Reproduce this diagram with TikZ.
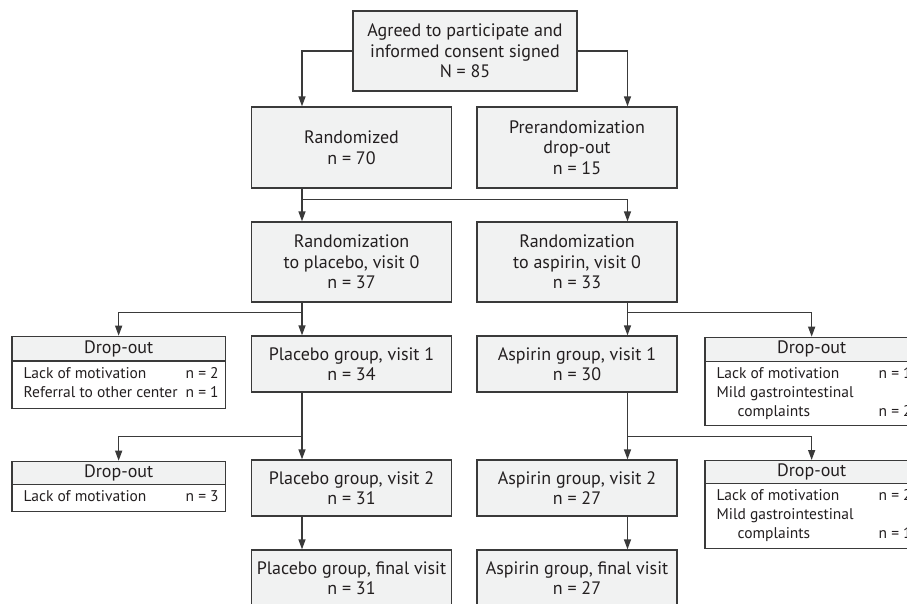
\documentclass[tikz,border=0pt]{standalone}
\usepackage{fontspec}
\setmainfont{PT Sans}
\usetikzlibrary{arrows.meta,calc}
\definecolor{boxfill}{HTML}{F1F2F2}
\definecolor{ln}{HTML}{3A3A3A}
\definecolor{txt}{HTML}{231F20}
\newcommand\mainsz{\fontsize{18}{20.5}\selectfont}
\newcommand\bodysz{\fontsize{15.5}{19}\selectfont}
\begin{document}
\begin{tikzpicture}[x=1pt,y=-1pt,
  box/.style={draw=ln, fill=boxfill, line width=1.3pt, align=center, inner sep=0pt,
    minimum width=200pt, text=txt, font=\mainsz},
  dhead/.style={draw=ln, fill=boxfill, line width=1.3pt, inner sep=0pt,
    minimum width=213.4pt, text=txt, font=\mainsz, anchor=north west},
  dbody/.style={draw=ln, fill=white, line width=1.3pt, inner sep=0pt,
    minimum width=213.4pt, text=txt, font=\bodysz, anchor=north west},
  arr/.style={draw=ln, line width=1.3pt, -{Triangle[length=10pt,width=7pt]}},
  ln/.style={draw=ln, line width=1.3pt}]
\useasboundingbox (0,0) rectangle (907,603);
\clip (0,0) rectangle (907,603);
\fill[white] (0,0) rectangle (907,603);
% column axes
\coordinate (cL) at (302,0);
\coordinate (cR) at (627.5,0);
\coordinate (b1) at (0,199.5);
\coordinate (b2) at (0,312.5);
\coordinate (b3) at (0,436.7);
% main boxes
\node[box, minimum width=224pt, minimum height=80pt] (top) at (465,51) {Agreed to participate and\\informed consent signed\\N = 85};
\node[box, minimum height=81pt] (rand) at (351.5,147.5) {Randomized\\n = 70};
\node[box, minimum height=81pt] (pre) at (577,147.5) {Prerandomization\\drop-out\\n = 15};
\node[box, minimum height=80pt] (rp) at (351.5,262) {Randomization\\to placebo, visit 0\\n = 37};
\node[box, minimum height=80pt] (ra) at (577,262) {Randomization\\to aspirin, visit 0\\n = 33};
\node[box, minimum height=56pt] (p1) at (351.5,364) {Placebo group, visit 1\\n = 34};
\node[box, minimum height=56pt] (a1) at (577,364) {Aspirin group, visit 1\\n = 30};
\node[box, minimum height=56pt] (p2) at (351.5,488) {Placebo group, visit 2\\n = 31};
\node[box, minimum height=56pt] (a2) at (577,488) {Aspirin group, visit 2\\n = 27};
\node[box, minimum height=56pt] (pf) at (351.5,578) {Placebo group, final visit\\n = 31};
\node[box, minimum height=56pt] (af) at (577,578) {Aspirin group, final visit\\n = 27};
% drop-out boxes
\node[dhead, minimum height=24.6pt] (dl1) at (11.3,335.7) {Drop-out};
\node[dbody, minimum height=47.4pt] (dl1b) at (11.3,360.3) {\begin{tabular}{@{\hspace{11.7pt}}p{162pt}@{}p{39.7pt}@{}}Lack of motivation & n = 2\\ Referral to other center & n = 1\end{tabular}};
\node[dhead, minimum height=23pt] (dl2) at (11.3,460.7) {Drop-out};
\node[dbody, minimum height=27pt] (dl2b) at (11.3,483.7) {\begin{tabular}{@{\hspace{11.7pt}}p{162pt}@{}p{39.7pt}@{}}Lack of motivation & n = 3\end{tabular}};
\node[dhead, minimum height=24pt] (dr1) at (704.3,336.7) {Drop-out};
\node[dbody, minimum height=64.3pt] (dr1b) at (704.3,360.7) {\begin{tabular}{@{\hspace{11.7pt}}p{162pt}@{}p{39.7pt}@{}}Lack of motivation & n = 1\\ Mild gastrointestinal & \\ \hspace*{21pt}complaints & n = 2\end{tabular}};
\node[dhead, minimum height=23pt] (dr2) at (704.3,460) {Drop-out};
\node[dbody, minimum height=65pt] (dr2b) at (704.3,483) {\begin{tabular}{@{\hspace{11.7pt}}p{162pt}@{}p{39.7pt}@{}}Lack of motivation & n = 2\\ Mild gastrointestinal & \\ \hspace*{21pt}complaints & n = 1\end{tabular}};
% connectors
\draw[arr] (top.west) -| (rand.north -| cL);
\draw[arr] (top.east) -| (pre.north -| cR);
\draw[arr] (rand.south -| cL) -- (rp.north -| cL);
\draw[arr] (b1 -| cL) -| (ra.north -| cR);
\draw[arr] (rp.south -| cL) -- (p1.north -| cL);
\draw[arr] (b2 -| cL) -| (dl1.north);
\draw[arr] (ra.south -| cR) -- (a1.north -| cR);
\draw[arr] (b2 -| cR) -| (dr1.north);
\draw[arr] (p1.south -| cL) -- (p2.north -| cL);
\draw[arr] (b3 -| cL) -| (dl2.north);
\draw[arr] (a1.south -| cR) -- (a2.north -| cR);
\draw[arr] (b3 -| cR) -| (dr2.north);
\draw[arr] (p2.south -| cL) -- (pf.north -| cL);
\draw[arr] (a2.south -| cR) -- (af.north -| cR);
\end{tikzpicture}
\end{document}
